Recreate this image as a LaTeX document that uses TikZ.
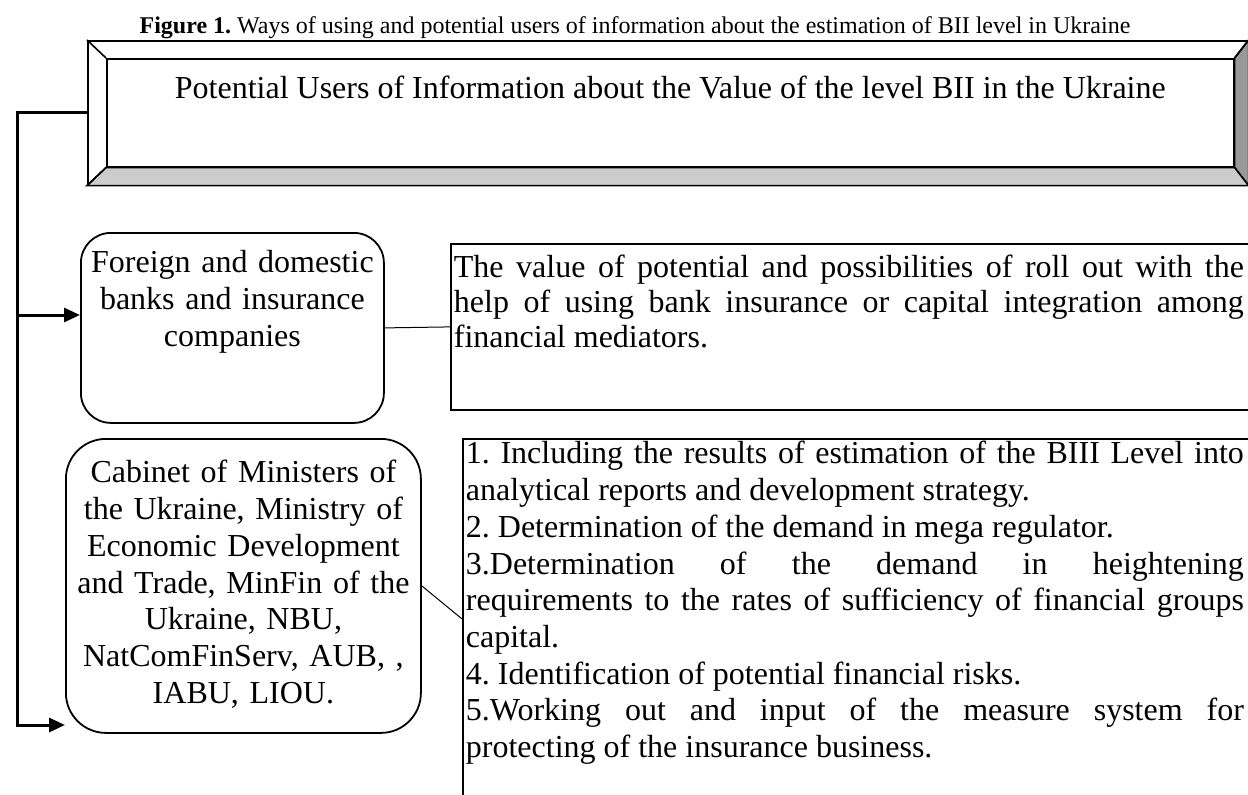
\documentclass[tikz,border=0pt]{standalone}
\usepackage{fontspec}
\setmainfont{Liberation Serif}
\frenchspacing
\usetikzlibrary{arrows.meta,positioning}

\begin{document}
\begin{tikzpicture}[
            x = 1pt, y = -1pt, % one unit per pixel, y downwards
            > = {Triangle[length=16pt,width=14pt]}, % arrow head style
            bus/.style = {line width=3pt}, % feed line on the left
            link/.style = {line width=1pt}, % thin line to the comment boxes
            bevel/.style = {draw, line width=1.6pt},
            user/.style = {draw, line width=1.8pt, inner sep=0pt, align=center,
                font=\fontsize{32}{36.7}\selectfont},
            task/.style = {draw, line width=1.8pt, inner ysep=0pt, inner xsep=3pt,
                text width=800pt, align=justify, font=\fontsize{32}{36.7}\selectfont,
                execute at begin node={\rightskip=#1}}
        ]

	\useasboundingbox (0,0) rectangle (1248,795);
	\clip (0,0) rectangle (1248,795);

	\node[anchor=base, font=\fontsize{24}{28}\selectfont] (cap) at (635,33)
		{\textbf{Figure 1.} Ways of using and potential users of information about the estimation of BII level in Ukraine};

	% bevelled title block
	\node[bevel, fill=white, minimum width=1160pt, minimum height=144pt, anchor=north west] (frame) at (87,40) {};
	\node[bevel, fill=white, inner sep=0pt, minimum width=1127pt, text height=40pt, text depth=68pt,
		font=\fontsize{32}{36.7}\selectfont, anchor=north west] (head) at (106,58)
		{Potential Users of Information about the Value of the level BII in the Ukraine};
	\filldraw[bevel, fill=black!40] (frame.north east) -- (frame.south east) -- (head.south east) -- (head.north east) -- cycle;
	\filldraw[bevel, fill=black!20] (frame.south west) -- (frame.south east) -- (head.south east) -- (head.south west) -- cycle;
	\draw[bevel] (frame.north west) -- (head.north west);
	\draw[bevel] (frame.north east) -- (head.north east);
	\draw[bevel] (frame.south west) -- (head.south west);

	\node[user, rounded corners=30pt, text width=303pt, text height=40pt, text depth=150pt, anchor=north west] (banks) at (80,232)
		{Foreign and domestic\\ banks and insurance\\ companies};
	\node[user, rounded corners=40pt, text width=355pt, text height=44pt, text depth=250pt, anchor=north west] (gov) at (65,438)
		{Cabinet of Ministers of\\ the Ukraine, Ministry of\\ Economic Development\\ and Trade, MinFin of the\\ Ukraine, NBU,\\ NatComFinServ, AUB, ,\\ IABU, LIOU.};

	\node[task=10pt, font=\fontsize{32}{35}\selectfont, text height=34pt, text depth=132pt, anchor=north west] (worth) at (450,243)
		{The value of potential and possibilities of roll out with the\linebreak
		help of using bank insurance or capital integration among\linebreak
		financial mediators.};
	\node[task=22pt, text height=25pt, text depth=335pt, anchor=north west] (steps) at (462,438)
		{1. Including the results of estimation of the BIII Level into\linebreak
		analytical reports and development strategy.\par
		2. Determination of the demand in mega regulator.\par
		3.Determination of the demand in heightening\linebreak
		requirements to the rates of sufficiency of financial groups\linebreak
		capital.\par
		4. Identification of potential financial risks.\par
		5.Working out and input of the measure system for\linebreak
		protecting of the insurance business.};

	\coordinate (tap) at (17,315);
	\coordinate (bend) at (17,725);

	\draw[bus, ->] (frame.west) -| (bend) -- (gov.west |- bend);
	\draw[bus, ->] (tap) -- (banks.west |- tap);
	\draw[link] (banks.east) -- (worth.west);
	\draw[link] (gov.east) -- (steps.west);

\end{tikzpicture}
\end{document}
